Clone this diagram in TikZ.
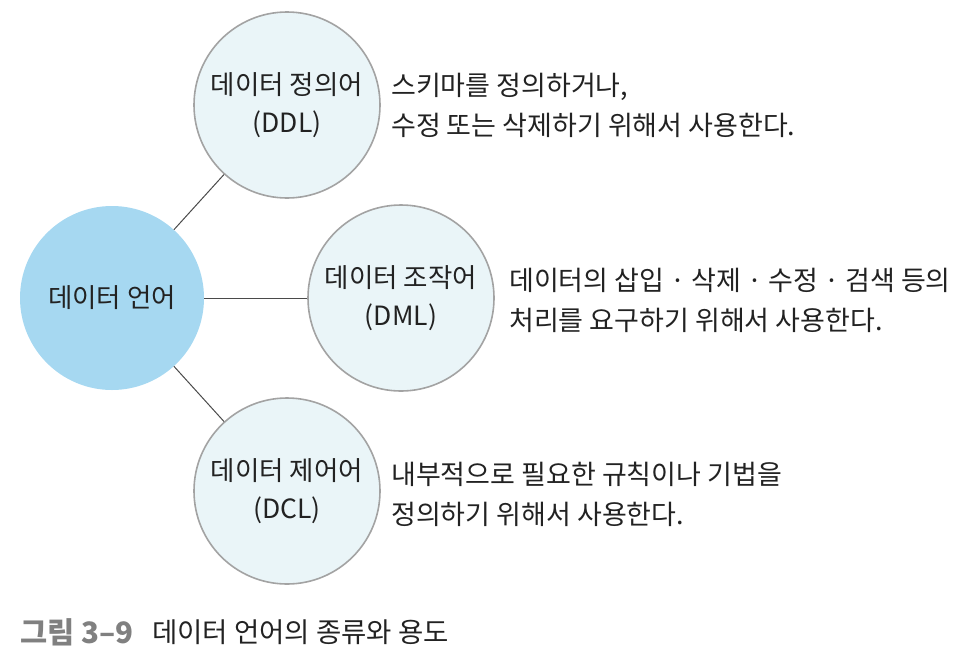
\documentclass[tikz,border=0pt]{standalone}
\usepackage{fontspec}
\setmainfont{Noto Sans CJK KR}
\definecolor{mainblue}{HTML}{A6D8F1}
\definecolor{lightfill}{HTML}{EAF5F8}
\definecolor{ringgray}{HTML}{A3A3A3}
\definecolor{linegray}{HTML}{4A4A4A}
\definecolor{txt}{HTML}{222222}
\definecolor{capgray}{HTML}{808080}
\begin{document}
\begin{tikzpicture}[x=1pt,y=-1pt,
  maincircle/.style={circle,fill=mainblue,minimum size=184pt,inner sep=0pt,text=txt,font=\fontsize{26.5}{38}\selectfont},
  subcircle/.style={circle,fill=lightfill,draw=ringgray,line width=1.6pt,minimum size=186pt,inner sep=0pt,align=center,text=txt,font=\fontsize{26.5}{38}\selectfont},
  desc/.style={anchor=west,align=left,text=txt,inner sep=0pt,font=\fontsize{27}{40}\selectfont},
  link/.style={draw=linegray,line width=1pt}]
\useasboundingbox (0,0) rectangle (960,662);
\node[maincircle] (main) at (112,298) {데이터 언어};
\node[subcircle] (ddl) at (287,105) {데이터 정의어\\(DDL)};
\node[subcircle] (dml) at (401,298) {데이터 조작어\\(DML)};
\node[subcircle] (dcl) at (287,491) {데이터 제어어\\(DCL)};
\draw[link] (main) -- (ddl);
\draw[link] (main) -- (dml);
\draw[link] (main) -- (dcl);
\node[desc] (tddl) at (391,105) {스키마를 정의하거나,\\수정 또는 삭제하기 위해서 사용한다.};
\node[desc] (tdml) at (509,300) {데이터의 삽입 · 삭제 · 수정 · 검색 등의\\처리를 요구하기 위해서 사용한다.};
\node[desc] (tdcl) at (391,494) {내부적으로 필요한 규칙이나 기법을\\정의하기 위해서 사용한다.};
\node[anchor=west,inner sep=0pt,text=capgray,font=\fontsize{29.5}{30}\selectfont\bfseries] (capnum) at (20,632) {그림 3–9};
\node[anchor=west,inner sep=0pt,text=txt,font=\fontsize{27.5}{30}\selectfont] (captext) at (152,632) {데이터 언어의 종류와 용도};
\end{tikzpicture}
\end{document}
